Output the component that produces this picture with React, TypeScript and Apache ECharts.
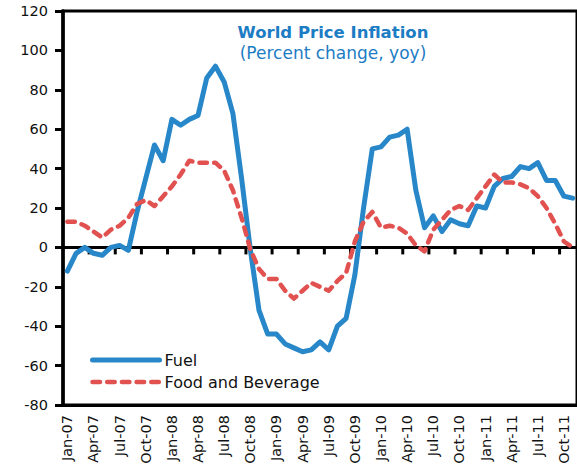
import React, { useEffect, useRef } from "react";
import * as echarts from "echarts";

const months = ["Jan", "Feb", "Mar", "Apr", "May", "Jun", "Jul", "Aug", "Sep", "Oct", "Nov", "Dec"];
const years = ["07", "08", "09", "10", "11"];
const categories: string[] = [];
years.forEach((y) => months.forEach((m) => categories.push(`${m}-${y}`)));
categories.splice(59); // Jan-07 .. Nov-11

const fuel = [
  -12, -3, 0, -3, -4, 0, 1, -1.5, 18, 35, 52, 44,
  65, 62, 65, 67, 86, 92, 84, 68, 35, -1, -32, -44,
  -44, -49, -51, -53, -52, -48, -52, -40, -36, -14, 20, 50,
  51, 56, 57, 60, 29, 10, 16, 8, 14, 12, 11, 21,
  20, 31, 35, 36, 41, 40, 43, 34, 34, 26, 25,
];

const food = [
  13, 13, 11, 8, 5, 9, 11, 15, 22, 24, 21, 26,
  31, 37, 44, 43, 43, 43, 39, 29, 15, -1, -11, -16,
  -16, -22, -26, -22, -18, -20, -22, -17, -13, 3, 13, 18,
  10, 11, 10, 7, 1, -2, 9, 14, 19, 21, 19, 25,
  31, 37, 33, 33, 32, 30, 26, 20, 12, 3, 0,
];

const yTicks = { min: -80, max: 120, interval: 20 };
const titleText = "World Price Inflation";
const subtitleText = "(Percent change, yoy)";
// category indices that carry a tick mark on the zero line (every quarter)
const quarterTicks = categories.map((_, i) => i).filter((i) => i % 3 === 0);

const FONT = "DejaVu Sans";
const FUEL_COLOR = "#2787C8";
const FOOD_COLOR = "#E0514F";

export default function App() {
  const ref = useRef<HTMLDivElement>(null);
  useEffect(() => {
    if (!ref.current) return;
    const chart = echarts.init(ref.current, null, { renderer: "svg" });
    chart.setOption({
      animation: false,
      backgroundColor: "#fff",
      grid: {
        left: 63,
        top: 11,
        right: -5,
        bottom: 63,
        show: true,
        borderColor: "#000",
        borderWidth: 3,
        containLabel: false,
      },
      legend: {
        orient: "vertical",
        left: 85,
        top: 347,
        itemWidth: 67,
        itemHeight: 14,
        itemGap: 6,
        itemStyle: { opacity: 0 },
        textStyle: { fontFamily: FONT, fontSize: 16, color: "#111" },
        data: [
          { name: "Fuel", lineStyle: { width: 5, color: FUEL_COLOR, cap: "round" } },
          { name: "Food and Beverage", lineStyle: { width: 4.5, color: FOOD_COLOR, type: [7.5, 7.2], cap: "round" } },
        ],
      },
      graphic: [
        {
          type: "text",
          x: 333,
          y: 32,
          style: {
            text: titleText,
            fontFamily: FONT,
            fontWeight: "bold",
            fontSize: 16.5,
            fill: "#1C7CC4",
            textAlign: "center",
            textVerticalAlign: "middle",
          },
        },
        {
          type: "text",
          x: 333,
          y: 53,
          style: {
            text: subtitleText,
            fontFamily: FONT,
            fontSize: 17,
            fill: "#1C7CC4",
            textAlign: "center",
            textVerticalAlign: "middle",
          },
        },
      ],
      xAxis: {
        type: "category",
        data: categories,
        boundaryGap: true,
        position: "bottom",
        axisLine: { onZero: false, lineStyle: { color: "#000", width: 3 } },
        axisTick: { show: false },
        axisLabel: {
          interval: 2,
          rotate: 90,
          margin: 10,
          fontFamily: FONT,
          fontSize: 14.5,
          color: "#111",
        },
        splitLine: { show: false },
      },
      yAxis: {
        type: "value",
        min: yTicks.min,
        max: yTicks.max,
        interval: yTicks.interval,
        axisLine: { show: true, onZero: false, lineStyle: { color: "#000", width: 3.5 } },
        axisTick: { show: true, length: 8, lineStyle: { color: "#000", width: 3 } },
        axisLabel: { margin: 15, fontFamily: FONT, fontSize: 14.5, color: "#111" },
        splitLine: { show: false },
      },
      series: [
        {
          name: "zeroAxis",
          type: "custom",
          silent: true,
          z: 1,
          data: quarterTicks.map((i) => [i, 0]),
          encode: { x: 0, y: 1 },
          renderItem: (params: any, api: any) => {
            const idx = api.value(0);
            const cs = params.coordSys;
            const p = api.coord([idx, 0]);
            const bw = api.size([1, 0])[0];
            const x = p[0] - bw / 2;
            const children: any[] = [];
            if (idx > 0) {
              children.push({
                type: "line",
                shape: { x1: x, y1: p[1], x2: x, y2: p[1] + 7 },
                style: { stroke: "#000", lineWidth: 3 },
              });
            }
            if (params.dataIndex === 0) {
              children.push({
                type: "line",
                shape: { x1: cs.x, y1: p[1], x2: cs.x + cs.width, y2: p[1] },
                style: { stroke: "#000", lineWidth: 3 },
              });
            }
            return { type: "group", children };
          },
        },
        {
          name: "Fuel",
          type: "line",
          data: fuel,
          symbol: "none",
          lineStyle: { color: FUEL_COLOR, width: 5, cap: "round", join: "round" },
          itemStyle: { color: FUEL_COLOR },
          z: 2,
        },
        {
          name: "Food and Beverage",
          type: "line",
          data: food,
          symbol: "none",
          lineStyle: { color: FOOD_COLOR, width: 4.5, type: [7.5, 7.2], cap: "round", join: "round" },
          itemStyle: { color: FOOD_COLOR },
          z: 3,
        },
      ],
    });
    return () => chart.dispose();
  }, []);
  return <div ref={ref} style={{ position: "fixed", left: 0, top: 0, width: 577, height: 468 }} />;
}
